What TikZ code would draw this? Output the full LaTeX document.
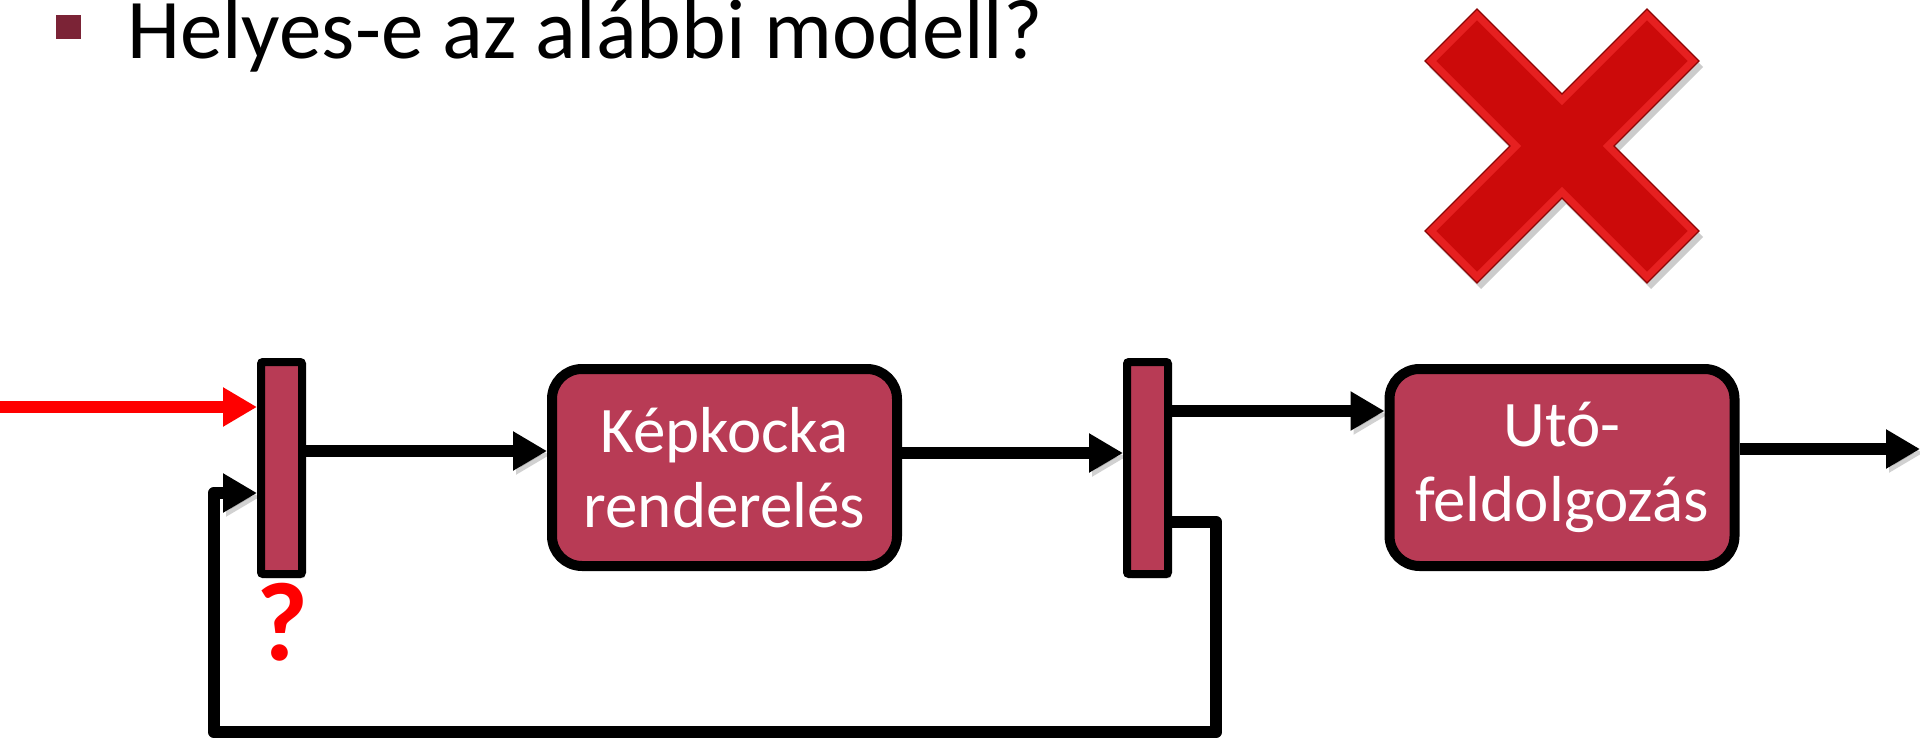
\documentclass[tikz,border=0pt]{standalone}
\usepackage{fontspec}
\setmainfont{Carlito}
\usetikzlibrary{arrows.meta,shadows,calc}
\definecolor{boxred}{RGB}{184,59,85}
\definecolor{bulletc}{RGB}{123,35,54}
\definecolor{xred}{RGB}{204,10,10}
\definecolor{xlight}{RGB}{230,32,32}
\definecolor{xdark}{RGB}{140,5,5}
\begin{document}
\begin{tikzpicture}[x=1pt,y=-1pt,
  shd/.style={drop shadow={shadow xshift=3pt,shadow yshift=-4pt,opacity=.3,fill=black}},
  lshd/.style={preaction={draw=black,opacity=.18,transform canvas={shift={(3pt,-4pt)}}}},
  latchbox/.style={draw=black,line width=8pt,fill=boxred,minimum width=41pt,minimum height=212pt,inner sep=0pt,rounded corners=2pt,shd},
  procbox/.style={draw=black,line width=10pt,fill=boxred,minimum width=345pt,minimum height=197pt,rounded corners=30pt,text=white,align=center,font=\fontsize{65}{75}\selectfont,shd},
  arr/.style={draw=black,line width=12.5pt,-{Triangle[length=34pt,width=37pt]},lshd},
  redarr/.style={draw=red,line width=12.5pt,-{Triangle[length=34pt,width=37pt]}},
  loopline/.style={draw=black,line width=12.5pt,line join=round,lshd}
]
\useasboundingbox (0,0) rectangle (1920,741);

% title
\fill[bulletc] (56,15) rectangle (81,39);
\node[anchor=base west,inner sep=0pt,font=\fontsize{85}{90}\selectfont] (title) at (127,59) {Helyes-e az alábbi modell?};

% red X
\begin{scope}[shift={(1562,146)}]
\fill[black,opacity=.2] ([shift={(4,6)}]-85,-137) -- ([shift={(4,6)}]0,-52) -- ([shift={(4,6)}]85,-137) -- ([shift={(4,6)}]137,-85) -- ([shift={(4,6)}]52,0) -- ([shift={(4,6)}]137,85) -- ([shift={(4,6)}]85,137) -- ([shift={(4,6)}]0,52) -- ([shift={(4,6)}]-85,137) -- ([shift={(4,6)}]-137,85) -- ([shift={(4,6)}]-52,0) -- ([shift={(4,6)}]-137,-85) -- cycle;
\filldraw[fill=xlight,draw=xdark,line width=1.2pt,line join=miter] (-85,-137) -- (0,-52) -- (85,-137) -- (137,-85) -- (52,0) -- (137,85) -- (85,137) -- (0,52) -- (-85,137) -- (-137,85) -- (-52,0) -- (-137,-85) -- cycle;
\fill[xred] (-85,-125.6) -- (0,-40.7) -- (85,-125.6) -- (125.6,-85) -- (40.7,0) -- (125.6,85) -- (85,125.6) -- (0,40.7) -- (-85,125.6) -- (-125.6,85) -- (-40.7,0) -- (-125.6,-85) -- cycle;
\end{scope}

% nodes
\node[latchbox] (l1) at (281.5,468) {};
\node[procbox] (b1) at (724.5,467.5) {Képkocka\\renderelés};
\node[latchbox] (l2) at (1147.5,468) {};
\node[procbox] (b2) at (1562,467.5) {Utó-\\feldolgozás};

% coordinates
\coordinate (rs) at (0,407);
\coordinate (ya) at (0,451);
\coordinate (yb) at (0,453);
\coordinate (yc) at (0,411);
\coordinate (out) at (1920,449);
\coordinate (yf) at (0,522);
\coordinate (yg) at (0,493);
\coordinate (fbr) at (1216,732);
\coordinate (fbl) at (214,732);
\coordinate (fbin) at (214,493);

% connectors
\draw[redarr] (rs) -- (rs -| l1.west);
\draw[arr] (l1.east |- ya) -- (b1.west |- ya);
\draw[arr] (b1.east |- yb) -- (l2.west |- yb);
\draw[arr] (l2.east |- yc) -- (b2.west |- yc);
\draw[arr] (b2.east |- out) -- (out);
\draw[loopline] (l2.east |- yf) -| (fbr) -- (fbl) -- (fbin) -- ($(fbin)+(6,0)$);
\draw[arr] (fbin) -- (l1.west |- yg);

% question mark
\node[text=red,font=\bfseries\fontsize{112}{112}\selectfont,inner sep=0pt] (q) at (282,622) {?};
\end{tikzpicture}
\end{document}
